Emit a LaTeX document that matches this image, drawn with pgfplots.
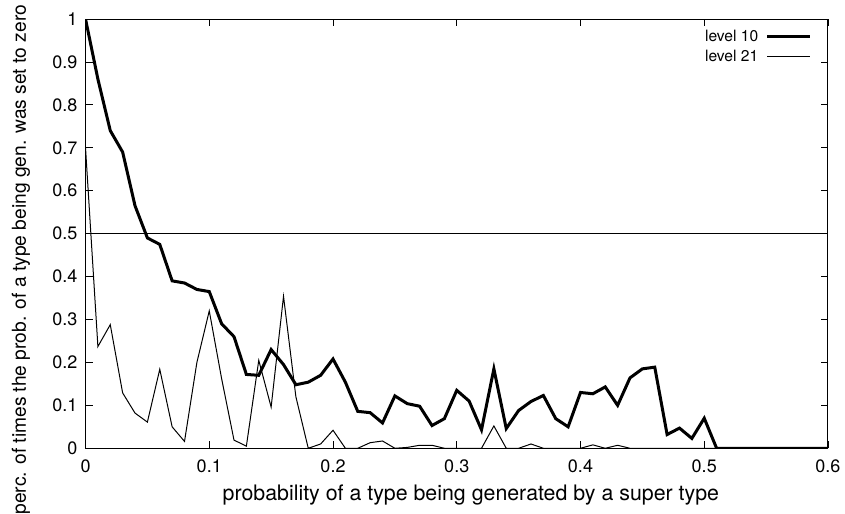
\documentclass[border=0pt]{standalone}
\usepackage{fontspec}
\setmainfont{TeX Gyre Heros}
\usepackage{pgfplots}
\usepackage{pgfplotstable}
\pgfplotsset{compat=1.18}

% level 10 (thick)
\pgfplotstableread{
x y
0.00 1.000
0.01 0.860
0.02 0.740
0.03 0.690
0.04 0.565
0.05 0.490
0.06 0.475
0.07 0.390
0.08 0.385
0.09 0.370
0.10 0.365
0.11 0.290
0.12 0.260
0.13 0.172
0.14 0.170
0.15 0.230
0.16 0.195
0.17 0.148
0.18 0.154
0.19 0.170
0.20 0.208
0.21 0.154
0.22 0.086
0.23 0.083
0.24 0.059
0.25 0.122
0.26 0.104
0.27 0.098
0.28 0.053
0.29 0.069
0.30 0.135
0.31 0.110
0.32 0.043
0.33 0.185
0.34 0.046
0.35 0.088
0.36 0.109
0.37 0.123
0.38 0.069
0.39 0.050
0.40 0.130
0.41 0.127
0.42 0.143
0.43 0.100
0.44 0.164
0.45 0.185
0.46 0.189
0.47 0.032
0.48 0.047
0.49 0.023
0.50 0.070
0.51 0.000
0.52 0.000
0.53 0.000
0.54 0.000
0.55 0.000
0.56 0.000
0.57 0.000
0.58 0.000
0.59 0.000
0.60 0.000
}\levelten

% level 21 (thin)
\pgfplotstableread{
x y
0.00 0.700
0.01 0.237
0.02 0.288
0.03 0.129
0.04 0.082
0.05 0.061
0.06 0.184
0.07 0.050
0.08 0.016
0.09 0.200
0.10 0.320
0.11 0.162
0.12 0.019
0.13 0.005
0.14 0.205
0.15 0.096
0.16 0.354
0.17 0.120
0.18 0.000
0.19 0.010
0.20 0.042
0.21 0.000
0.22 0.000
0.23 0.013
0.24 0.017
0.25 0.000
0.26 0.002
0.27 0.007
0.28 0.007
0.29 0.000
0.30 0.000
0.31 0.000
0.32 0.000
0.33 0.052
0.34 0.000
0.35 0.000
0.36 0.010
0.37 0.000
0.38 0.000
0.39 0.000
0.40 0.000
0.41 0.008
0.42 0.000
0.43 0.007
0.44 0.000
0.45 0.000
0.46 0.000
0.47 0.000
0.48 0.000
0.49 0.000
0.50 0.000
0.51 0.000
0.52 0.000
0.53 0.000
0.54 0.000
0.55 0.000
0.56 0.000
0.57 0.000
0.58 0.000
0.59 0.000
0.60 0.000
}\leveltwentyone

\begin{document}
\begin{tikzpicture}
\begin{axis}[
    name=ax,
    scale only axis,
    width=556.5pt, height=321.75pt,
    xmin=0, xmax=0.6, ymin=0, ymax=1,
    xtick={0,0.1,0.2,0.3,0.4,0.5,0.6},
    ytick={0,0.1,0.2,0.3,0.4,0.5,0.6,0.7,0.8,0.9,1},
    tick align=inside,
    major tick length=5.25pt,
    tick style={black, line width=0.6pt},
    axis line style={line width=0.75pt},
    /pgf/number format/assume math mode=true,
    ticklabel style={font=\fontsize{13.5}{15}\selectfont},
    xticklabel style={yshift=-4.7pt},
    yticklabel style={xshift=-2.6pt},
    xlabel={probability of a type being generated by a super type},
    ylabel={perc. of times the prob. of a type being gen. was set to zero},
    xlabel style={font=\fontsize{16}{18}\selectfont,
      at={(axis description cs:0.519,-0.1096)}, anchor=center},
    ylabel style={font=\fontsize{14.4}{16}\selectfont,
      at={(axis description cs:-0.0869,0.4394)}, anchor=center},
    legend style={draw=none, fill=none, at={(0.9833,0.988)}, anchor=north east,
      font=\fontsize{11.7}{13}\selectfont, legend cell align=right,
      row sep=1pt, column sep=3.5pt},
    legend plot pos=right,
    legend image code/.code={\draw[#1] (0pt,0pt) -- (32pt,0pt);},
]
\addplot[black, line width=2.25pt, line join=miter] table[x=x, y=y] {\levelten};
\addlegendentry{level 10}
\addplot[black, line width=0.75pt] table[x=x, y=y] {\leveltwentyone};
\addlegendentry{level 21}
\addplot[black, line width=0.75pt, forget plot] coordinates {(0,0.5) (0.6,0.5)};
\end{axis}
\pgfresetboundingbox
\path[use as bounding box] ([shift={(-64.1pt,-48.75pt)}]ax.south west) rectangle ([shift={(12.75pt,14.25pt)}]ax.north east);
\end{tikzpicture}
\end{document}
